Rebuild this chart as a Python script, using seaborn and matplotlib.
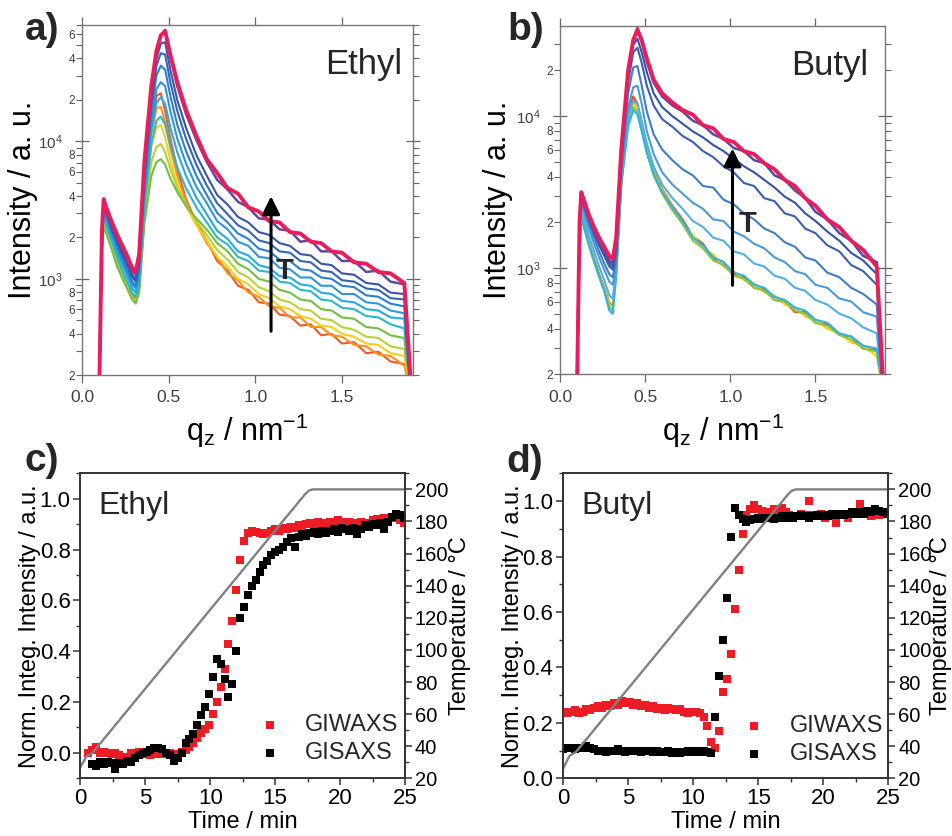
import numpy as np
import matplotlib
matplotlib.use("Agg")
import matplotlib.pyplot as plt
import matplotlib.ticker as mticker
import seaborn as sns

sns.set_theme(style="ticks")
plt.rcParams["font.family"] = ["Liberation Sans", "DejaVu Sans"]
plt.rcParams["mathtext.fontset"] = "custom"
plt.rcParams["mathtext.rm"] = "Liberation Sans"
plt.rcParams["mathtext.it"] = "Liberation Sans:italic"
plt.rcParams["mathtext.default"] = "regular"

# ---------------- GISAXS line cuts (log10 intensity) ----------------
q_nm = [0.10, 0.115, 0.125, 0.14, 0.17, 0.20, 0.23, 0.26, 0.29, 0.31,
        0.33, 0.36, 0.40, 0.43, 0.455, 0.48, 0.51, 0.55, 0.60, 0.66,
        0.72, 0.78, 0.84, 0.90, 0.96, 1.02, 1.08, 1.14, 1.20, 1.26,
        1.32, 1.38, 1.44, 1.50, 1.57, 1.64, 1.71, 1.78, 1.86, 1.895]

# Ethyl, low T -> high T
a_red = [2.2, 3.23, 3.42, 3.37, 3.26, 3.14, 3.04, 2.96, 2.88, 2.85, 2.95, 3.45, 4.08, 4.33, 4.35, 4.22, 4.02, 3.80, 3.58, 3.41,
         3.28, 3.13, 3.06, 2.95, 2.92, 2.83, 2.82, 2.74, 2.73, 2.66, 2.67, 2.59, 2.60, 2.53, 2.54, 2.46, 2.47, 2.40, 2.38, 2.2]
a_orange = [2.2, 3.22, 3.41, 3.36, 3.25, 3.13, 3.03, 2.95, 2.87, 2.84, 2.94, 3.45, 4.05, 4.24, 4.25, 4.14, 3.95, 3.75, 3.56, 3.40,
            3.26, 3.16, 3.04, 2.99, 2.90, 2.87, 2.80, 2.79, 2.72, 2.72, 2.65, 2.65, 2.59, 2.58, 2.52, 2.51, 2.45, 2.44, 2.37, 2.2]
a_yellow = [2.2, 3.22, 3.40, 3.35, 3.24, 3.12, 3.02, 2.94, 2.86, 2.83, 2.93, 3.45, 3.96, 4.10, 4.12, 4.03, 3.86, 3.69, 3.53, 3.39,
            3.28, 3.16, 3.09, 3.00, 2.96, 2.89, 2.86, 2.80, 2.78, 2.73, 2.71, 2.66, 2.65, 2.60, 2.58, 2.53, 2.52, 2.46, 2.44, 2.2]
a_ygreen = [2.2, 3.22, 3.40, 3.35, 3.24, 3.12, 3.02, 2.94, 2.86, 2.83, 2.92, 3.45, 3.85, 3.96, 3.98, 3.92, 3.80, 3.66, 3.54, 3.42,
            3.32, 3.21, 3.14, 3.05, 3.01, 2.94, 2.91, 2.85, 2.83, 2.78, 2.77, 2.71, 2.70, 2.65, 2.63, 2.58, 2.57, 2.51, 2.49, 2.2]
a_green = [2.2, 3.20, 3.38, 3.33, 3.22, 3.10, 3.01, 2.93, 2.85, 2.82, 2.90, 3.40, 3.75, 3.85, 3.87, 3.83, 3.73, 3.63, 3.53, 3.44,
           3.36, 3.26, 3.20, 3.11, 3.07, 3.00, 2.98, 2.92, 2.90, 2.85, 2.84, 2.78, 2.77, 2.72, 2.71, 2.65, 2.64, 2.59, 2.57, 2.2]
a_teal = [2.2, 3.24, 3.45, 3.39, 3.28, 3.17, 3.07, 2.98, 2.90, 2.87, 2.96, 3.52, 3.98, 4.15, 4.18, 4.12, 3.97, 3.81, 3.66, 3.52,
          3.41, 3.30, 3.25, 3.16, 3.13, 3.06, 3.05, 2.98, 2.97, 2.92, 2.91, 2.85, 2.84, 2.79, 2.78, 2.73, 2.72, 2.67, 2.64, 2.2]
a_cyan = [2.2, 3.25, 3.48, 3.42, 3.31, 3.20, 3.11, 3.02, 2.93, 2.90, 3.00, 3.58, 4.08, 4.28, 4.32, 4.27, 4.10, 3.92, 3.75, 3.59,
          3.47, 3.35, 3.29, 3.20, 3.17, 3.10, 3.08, 3.02, 3.01, 2.96, 2.95, 2.90, 2.89, 2.84, 2.83, 2.78, 2.77, 2.72, 2.71, 2.2]
a_sky = [2.2, 3.27, 3.50, 3.44, 3.33, 3.23, 3.13, 3.05, 2.96, 2.93, 3.04, 3.63, 4.15, 4.38, 4.43, 4.40, 4.22, 4.02, 3.84, 3.67,
         3.55, 3.42, 3.36, 3.27, 3.24, 3.16, 3.15, 3.08, 3.07, 3.01, 3.01, 2.95, 2.95, 2.89, 2.89, 2.83, 2.82, 2.77, 2.75, 2.2]
a_lblue = [2.2, 3.28, 3.52, 3.46, 3.35, 3.25, 3.16, 3.07, 2.98, 2.95, 3.07, 3.68, 4.22, 4.48, 4.55, 4.52, 4.33, 4.12, 3.93, 3.75,
           3.61, 3.48, 3.41, 3.33, 3.29, 3.22, 3.20, 3.14, 3.13, 3.07, 3.06, 3.01, 3.00, 2.95, 2.94, 2.88, 2.87, 2.82, 2.80, 2.2]
a_navy = [2.2, 3.29, 3.54, 3.48, 3.37, 3.27, 3.18, 3.10, 3.01, 2.98, 3.10, 3.72, 4.28, 4.55, 4.64, 4.63, 4.43, 4.22, 4.02, 3.83,
          3.68, 3.55, 3.47, 3.39, 3.35, 3.28, 3.26, 3.20, 3.19, 3.13, 3.12, 3.06, 3.05, 2.99, 2.98, 2.93, 2.92, 2.86, 2.85, 2.2]
a_blue = [2.2, 3.30, 3.55, 3.49, 3.38, 3.29, 3.20, 3.12, 3.03, 3.00, 3.12, 3.75, 4.32, 4.60, 4.71, 4.72, 4.52, 4.30, 4.10, 3.90,
          3.75, 3.61, 3.54, 3.45, 3.41, 3.34, 3.32, 3.26, 3.24, 3.18, 3.17, 3.11, 3.10, 3.04, 3.03, 2.97, 2.96, 2.90, 2.89, 2.2]
a_violet = [2.3, 3.30, 3.56, 3.50, 3.40, 3.31, 3.23, 3.14, 3.06, 3.03, 3.15, 3.80, 4.38, 4.65, 4.77, 4.81, 4.62, 4.40, 4.20, 4.01,
            3.85, 3.72, 3.65, 3.56, 3.52, 3.44, 3.43, 3.36, 3.35, 3.27, 3.28, 3.20, 3.20, 3.13, 3.13, 3.05, 3.06, 2.98, 2.96, 2.2]
a_pink = [2.2, 3.35, 3.58, 3.52, 3.42, 3.33, 3.25, 3.17, 3.08, 3.05, 3.18, 3.85, 4.40, 4.66, 4.77, 4.80, 4.63, 4.43, 4.23, 4.04,
          3.87, 3.77, 3.66, 3.62, 3.52, 3.49, 3.42, 3.41, 3.34, 3.33, 3.27, 3.26, 3.20, 3.19, 3.12, 3.11, 3.05, 3.04, 2.97, 2.3]

# Butyl, low T -> high T
b_red = [2.2, 3.14, 3.34, 3.29, 3.17, 3.06, 2.96, 2.87, 2.77, 2.75, 2.98, 3.57, 4.02, 4.13, 4.08, 3.95, 3.79, 3.64, 3.52, 3.41,
         3.32, 3.21, 3.16, 3.06, 3.04, 2.96, 2.94, 2.87, 2.86, 2.79, 2.78, 2.71, 2.71, 2.64, 2.63, 2.56, 2.55, 2.47, 2.46, 2.2]
b_yellow = [2.2, 3.13, 3.33, 3.28, 3.16, 3.05, 2.95, 2.86, 2.76, 2.74, 2.97, 3.56, 3.98, 4.09, 4.05, 3.93, 3.78, 3.63, 3.51, 3.40,
            3.29, 3.22, 3.13, 3.09, 3.01, 2.98, 2.92, 2.90, 2.84, 2.82, 2.76, 2.74, 2.68, 2.66, 2.60, 2.57, 2.51, 2.49, 2.42, 2.2]
b_green = [2.2, 3.12, 3.32, 3.27, 3.15, 3.04, 2.94, 2.85, 2.74, 2.72, 2.96, 3.55, 3.95, 4.06, 4.03, 3.91, 3.76, 3.61, 3.49, 3.38,
           3.29, 3.18, 3.13, 3.05, 3.02, 2.95, 2.93, 2.87, 2.85, 2.79, 2.78, 2.72, 2.70, 2.64, 2.62, 2.56, 2.53, 2.47, 2.45, 2.2]
b_cyan = [2.2, 3.12, 3.33, 3.28, 3.15, 3.05, 2.95, 2.85, 2.72, 2.70, 2.95, 3.55, 3.93, 4.04, 4.01, 3.90, 3.76, 3.62, 3.50, 3.40,
          3.31, 3.20, 3.15, 3.07, 3.04, 2.97, 2.95, 2.89, 2.87, 2.81, 2.79, 2.74, 2.72, 2.66, 2.64, 2.57, 2.55, 2.49, 2.47, 2.2]
b_blue0 = [2.2, 3.18, 3.38, 3.33, 3.21, 3.11, 3.01, 2.92, 2.82, 2.80, 2.99, 3.58, 4.00, 4.10, 4.08, 3.97, 3.82, 3.67, 3.55, 3.46,
           3.39, 3.31, 3.27, 3.20, 3.18, 3.11, 3.09, 3.03, 3.01, 2.95, 2.93, 2.87, 2.85, 2.79, 2.76, 2.70, 2.67, 2.61, 2.57, 2.2]
b_blue1 = [2.2, 3.22, 3.42, 3.37, 3.26, 3.16, 3.07, 2.99, 2.91, 2.89, 3.02, 3.60, 4.05, 4.19, 4.20, 4.08, 3.90, 3.75, 3.63, 3.55,
           3.49, 3.43, 3.39, 3.32, 3.31, 3.24, 3.21, 3.16, 3.13, 3.07, 3.04, 2.98, 2.96, 2.89, 2.87, 2.80, 2.78, 2.71, 2.68, 2.2]
b_blue2 = [2.2, 3.25, 3.45, 3.40, 3.29, 3.20, 3.11, 3.03, 2.96, 2.94, 3.06, 3.65, 4.15, 4.32, 4.33, 4.20, 4.03, 3.88, 3.78, 3.71,
           3.65, 3.61, 3.54, 3.53, 3.45, 3.42, 3.36, 3.32, 3.26, 3.23, 3.17, 3.14, 3.07, 3.05, 2.97, 2.94, 2.87, 2.83, 2.76, 2.2]
b_blue3 = [2.2, 3.27, 3.47, 3.42, 3.32, 3.23, 3.15, 3.08, 3.01, 2.99, 3.12, 3.70, 4.22, 4.42, 4.45, 4.35, 4.20, 4.07, 3.98, 3.93,
           3.87, 3.83, 3.77, 3.73, 3.67, 3.63, 3.56, 3.54, 3.46, 3.44, 3.36, 3.34, 3.26, 3.23, 3.15, 3.11, 3.02, 2.98, 2.89, 2.2]
b_blue4 = [2.2, 3.28, 3.48, 3.43, 3.33, 3.24, 3.16, 3.09, 3.03, 3.01, 3.15, 3.73, 4.26, 4.47, 4.51, 4.42, 4.29, 4.15, 4.06, 4.00,
           3.95, 3.90, 3.86, 3.81, 3.77, 3.72, 3.67, 3.63, 3.58, 3.53, 3.47, 3.43, 3.36, 3.31, 3.24, 3.18, 3.10, 3.05, 2.96, 2.2]
b_violet = [2.3, 3.28, 3.48, 3.43, 3.33, 3.25, 3.17, 3.11, 3.05, 3.03, 3.17, 3.75, 4.28, 4.50, 4.58, 4.49, 4.36, 4.22, 4.13, 4.07,
            4.03, 3.97, 3.94, 3.88, 3.85, 3.79, 3.77, 3.71, 3.69, 3.61, 3.58, 3.51, 3.46, 3.37, 3.32, 3.23, 3.18, 3.08, 3.04, 2.2]
b_pink = [2.2, 3.30, 3.50, 3.45, 3.35, 3.27, 3.20, 3.14, 3.08, 3.06, 3.20, 3.78, 4.30, 4.50, 4.57, 4.50, 4.38, 4.24, 4.15, 4.09,
          4.04, 4.01, 3.94, 3.92, 3.85, 3.83, 3.77, 3.75, 3.69, 3.65, 3.58, 3.54, 3.46, 3.41, 3.32, 3.27, 3.18, 3.12, 3.01, 2.3]

# ---------------- integrated intensities vs time ----------------
time_min = [0.0, 0.3, 0.6, 0.9, 1.2, 1.5, 1.8, 2.1, 2.4, 2.7, 3.0, 3.3, 3.6, 3.9, 4.2, 4.5, 4.8, 5.1, 5.4, 5.7,
            6.0, 6.3, 6.6, 6.9, 7.2, 7.5, 7.8, 8.1, 8.4, 8.7, 9.0, 9.3, 9.6, 9.9, 10.2, 10.5, 10.8, 11.1, 11.4, 11.7,
            12.0, 12.3, 12.6, 12.9, 13.2, 13.5, 13.8, 14.1, 14.4, 14.7, 15.0, 15.3, 15.6, 15.9, 16.2, 16.5, 16.8, 17.1, 17.4, 17.7,
            18.0, 18.3, 18.6, 18.9, 19.2, 19.5, 19.8, 20.1, 20.4, 20.7, 21.0, 21.3, 21.6, 21.9, 22.2, 22.5, 22.8, 23.1, 23.4, 23.7,
            24.0, 24.3, 24.6, 24.9]
nan = float("nan")
giwaxs_ethyl = [nan, nan, 0.00, 0.01, 0.025, 0.00, 0.005, 0.00, -0.005, 0.00, -0.01, -0.02, -0.015, 0.00, -0.005, 0.005, 0.00, -0.005, -0.01, 0.00,
                -0.005, 0.00, -0.005, 0.00, -0.01, -0.005, 0.005, 0.01, 0.025, 0.04, 0.06, 0.08, 0.095, 0.11, 0.155, 0.20, 0.26, 0.33, 0.43, 0.52,
                0.64, 0.76, 0.835, 0.865, 0.875, 0.87, 0.865, 0.86, 0.865, 0.875, 0.88, 0.875, 0.885, 0.88, 0.89, 0.885, 0.895, 0.89, 0.90, 0.905,
                0.895, 0.91, 0.905, 0.90, 0.91, 0.905, 0.915, 0.91, 0.905, 0.91, 0.90, 0.905, 0.91, 0.90, 0.905, 0.915, 0.92, 0.91, 0.925, 0.915,
                0.93, 0.925, 0.915, 0.905]
gisaxs_ethyl = [nan, nan, nan, -0.045, -0.05, -0.035, -0.045, -0.035, -0.04, -0.065, -0.04, -0.045, -0.03, -0.035, -0.02, -0.01, 0.00, 0.005, 0.01, 0.02,
                0.02, 0.015, 0.00, -0.01, -0.03, -0.02, 0.00, 0.04, 0.055, 0.075, 0.11, 0.15, 0.18, 0.23, 0.30, 0.37, 0.35, 0.29, 0.22, 0.27,
                0.40, 0.53, 0.575, 0.62, 0.655, 0.68, 0.71, 0.74, 0.755, 0.78, 0.79, 0.80, 0.81, 0.83, 0.845, 0.81, 0.85, 0.86, 0.855, 0.865,
                0.87, 0.86, 0.875, 0.865, 0.875, 0.88, 0.87, 0.885, 0.88, 0.875, 0.885, 0.86, 0.88, 0.895, 0.89, 0.90, 0.895, 0.905, 0.88, 0.91,
                0.93, 0.94, 0.935, 0.925]
giwaxs_butyl = [0.24, 0.235, 0.24, 0.245, 0.235, 0.24, 0.25, 0.245, 0.255, 0.26, 0.255, 0.265, 0.26, 0.27, 0.265, 0.28, 0.27, 0.275, 0.265, 0.27,
                0.26, 0.265, 0.255, 0.26, 0.25, 0.255, 0.245, 0.255, 0.25, 0.245, 0.25, 0.24, 0.235, 0.24, 0.24, 0.235, 0.22, 0.19, 0.13, 0.11,
                0.17, 0.31, 0.36, 0.45, 0.61, 0.75, 0.88, 0.95, 0.97, 0.985, 0.97, 0.965, 0.96, 0.955, 0.97, 0.965, 0.975, 0.96, 0.95, 0.94,
                0.945, 0.955, 0.95, 1.00, 0.95, 0.945, 0.955, 0.94, 0.95, 0.945, 0.92, 0.95, 0.955, 0.94, 0.955, 0.96, 0.99, 0.955, 0.96, 0.945,
                0.955, 0.95, 0.96, 0.955]
gisaxs_butyl = [0.105, 0.11, 0.11, 0.105, 0.11, 0.11, 0.115, 0.11, 0.105, 0.10, 0.10, 0.095, 0.10, 0.10, 0.105, 0.10, 0.095, 0.10, 0.10, 0.10,
                0.095, 0.10, 0.10, 0.095, 0.10, 0.095, 0.095, 0.10, 0.09, 0.095, 0.09, 0.095, 0.10, 0.095, 0.10, 0.095, 0.10, 0.095, 0.09, 0.22,
                0.37, 0.50, 0.65, 0.87, 0.975, 0.95, 0.935, 0.925, 0.93, 0.935, 0.94, 0.935, 0.94, 0.94, 0.935, 0.94, 0.945, 0.94, 0.945, 0.94,
                0.945, 0.95, 0.945, 0.94, 0.945, 0.95, 0.945, 0.95, 0.945, 0.955, 0.95, 0.955, 0.95, 0.955, 0.96, 0.955, 0.96, 0.955, 0.965, 0.96,
                0.97, 0.965, 0.96, 0.955]

temp_time_ethyl = [0.0, 0.5, 0.9, 17.3, 17.6, 17.9, 25.0]
temp_ethyl = [27, 34, 35.5, 197, 199.3, 200, 200]
temp_time_butyl = [0.0, 0.5, 1.0, 17.3, 17.6, 17.9, 25.0]
temp_butyl = [26, 34, 36.5, 197, 199.3, 200, 200]

# ---------------- styling ----------------
curves_a = [a_red, a_orange, a_yellow, a_ygreen, a_green, a_teal, a_cyan, a_sky, a_lblue, a_navy, a_blue, a_violet, a_pink]
colors_a = ["#f15a24", "#f7941d", "#f4d019", "#b5d334", "#72bf44", "#2bb8c8", "#27aae1", "#2f96d8", "#2b80cc",
            "#3464b8", "#3a55a8", "#5e4aa0", "#ec1c5c"]
curves_b = [b_red, b_yellow, b_green, b_cyan, b_blue0, b_blue1, b_blue2, b_blue3, b_blue4, b_violet, b_pink]
colors_b = ["#f04e23", "#f5d300", "#8cc63f", "#29b5e8", "#4fb0e3", "#4a9ad8", "#3f7cc9", "#3b5fb0", "#3552a6",
            "#5a4a9e", "#ec1c5c"]

fig = plt.figure(figsize=(9.52, 8.36), dpi=100)
ax_a = fig.add_axes([0.0861, 0.5514, 0.3477, 0.4187])
ax_b = fig.add_axes([0.5882, 0.5523, 0.3417, 0.4166])
ax_c = fig.add_axes([0.0844, 0.0690, 0.3411, 0.3648])
ax_d = fig.add_axes([0.5914, 0.0690, 0.3417, 0.3648])


def major_fmt(v, pos):
    return r"$10^{%d}$" % int(round(np.log10(v)))


def minor_fmt(v, pos):
    d = int(round(v / 10 ** np.floor(np.log10(v) + 1e-9)))
    return str(d) if d in (2, 4, 6, 8) else ""


def saxs_panel(ax, curves, colors, ymax, name, name_xy, arrow_x, arrow_y, t_xy, ylab_x, xlab_y):
    n = len(curves)
    for i, (vals, col) in enumerate(zip(curves, colors)):
        lw = 2.8 if i == n - 1 else (1.8 if i == n - 2 else 1.5)
        sns.lineplot(x=q_nm, y=10 ** np.array(vals), color=col, lw=lw, ax=ax, errorbar=None)
    ax.set_yscale("log")
    ax.set_xlim(0, 1.91)
    ax.set_ylim(200, ymax)
    ax.set_xticks([0.0, 0.5, 1.0, 1.5])
    ax.xaxis.set_major_formatter(mticker.FormatStrFormatter("%.1f"))
    ax.xaxis.set_minor_locator(mticker.NullLocator())
    ax.yaxis.set_major_locator(mticker.LogLocator(base=10))
    ax.yaxis.set_major_formatter(mticker.FuncFormatter(major_fmt))
    ax.yaxis.set_minor_locator(mticker.LogLocator(base=10, subs=[2, 3, 4, 5, 6, 7, 8, 9]))
    ax.yaxis.set_minor_formatter(mticker.FuncFormatter(minor_fmt))
    ax.tick_params(axis="x", which="major", direction="out", length=6, width=0.9, top=True,
                   labelsize=12.5, labelcolor="#404040", color="#666666", pad=5)
    ax.tick_params(axis="y", which="major", direction="inout", length=10, width=0.9, right=True,
                   labelsize=11, labelcolor="#404040", color="#666666", pad=9)
    ax.tick_params(axis="y", which="minor", direction="out", length=4, width=0.8, right=True,
                   labelsize=8.5, labelcolor="#404040", color="#666666", pad=1)
    for s in ax.spines.values():
        s.set_color("#777777")
        s.set_linewidth(1.0)
    ax.set_xlabel(r"q$_{z}$ / nm$^{-1}$", fontsize=22, color="black")
    ax.set_ylabel("Intensity / a. u.", fontsize=22, color="black")
    ax.yaxis.set_label_coords(ylab_x, 0.5)
    ax.xaxis.set_label_coords(0.5, xlab_y)
    ax.text(name_xy[0], name_xy[1], name, transform=ax.transAxes, fontsize=25, va="center", ha="left")
    ax.annotate("", xy=(arrow_x, arrow_y[1]), xytext=(arrow_x, arrow_y[0]),
                arrowprops=dict(arrowstyle="-|>,head_length=0.6,head_width=0.3", lw=2.2, color="black",
                                mutation_scale=18, shrinkA=0, shrinkB=0))
    ax.text(t_xy[0], t_xy[1], "T", fontsize=21, fontweight="bold", ha="center", va="center")


saxs_panel(ax_a, curves_a, colors_a, 7.0e4, "Ethyl", (0.734, 0.886), 1.091, (416, 3980), (1.17, 1140), -0.133, -0.105)
saxs_panel(ax_b, curves_b, colors_b, 3.92e4, "Butyl", (0.71, 0.888), 1.013, (770, 6125), (1.10, 1940), -0.144, -0.107)


def kinetics_panel(ax, wax, sax, t_time, t_vals, ylim, name, leg_xy, rlab_x):
    sns.scatterplot(x=time_min, y=wax, color="#ed1c24", marker="s", s=30, linewidth=0, ax=ax, label="GIWAXS", zorder=3)
    sns.scatterplot(x=time_min, y=sax, color="black", marker="s", s=30, linewidth=0, ax=ax, label="GISAXS", zorder=3)
    ax.set_xlim(0, 25)
    ax.set_ylim(*ylim)
    ax.set_xticks([0, 5, 10, 15, 20, 25])
    ax.xaxis.set_minor_locator(mticker.MultipleLocator(2.5))
    ax.set_yticks([0.0, 0.2, 0.4, 0.6, 0.8, 1.0])
    ax.yaxis.set_major_formatter(mticker.FormatStrFormatter("%.1f"))
    ax.yaxis.set_minor_locator(mticker.MultipleLocator(0.1))
    ax.tick_params(which="major", direction="out", length=5, width=1.1, labelsize=16, color="#333333",
                   labelcolor="black", pad=2, top=False, right=False)
    ax.tick_params(which="minor", direction="out", length=3, width=1.0, color="#333333", top=False, right=False)
    ax.set_xlabel("Time / min", fontsize=17, color="black")
    ax.set_ylabel("Norm. Integ. Intensity / a.u.", fontsize=17, color="black")
    ax.xaxis.set_label_coords(0.5, -0.108)
    ax.yaxis.set_label_coords(-0.121, 0.5)
    ax.text(0.055, 0.892, name, transform=ax.transAxes, fontsize=23, va="center", ha="left")
    ax.legend(loc="center", bbox_to_anchor=leg_xy, frameon=False, fontsize=17, handlelength=1.0,
              handletextpad=1.0, labelspacing=0.25, borderpad=0.2)

    ax2 = ax.twinx()
    sns.lineplot(x=t_time, y=t_vals, color="#808080", lw=1.7, ax=ax2, errorbar=None)
    ax2.set_ylim(20, 210)
    ax2.set_yticks(list(range(20, 201, 20)))
    ax2.yaxis.set_minor_locator(mticker.MultipleLocator(10))
    ax2.tick_params(axis="y", which="major", direction="out", length=5, width=1.1, labelsize=14.5,
                    color="#333333", labelcolor="black", pad=2)
    ax2.tick_params(axis="y", which="minor", direction="out", length=3, width=1.0, color="#333333")
    ax2.set_ylabel("Temperature / °C", fontsize=17, color="black")
    ax2.yaxis.set_label_coords(rlab_x, 0.5)
    for a in (ax, ax2):
        for s in a.spines.values():
            s.set_color("#333333")
            s.set_linewidth(1.2)


kinetics_panel(ax_c, giwaxs_ethyl, gisaxs_ethyl, temp_time_ethyl, temp_ethyl, (-0.1, 1.1), "Ethyl", (0.763, 0.129), 1.136)
kinetics_panel(ax_d, giwaxs_butyl, gisaxs_butyl, temp_time_butyl, temp_butyl, (0.0, 1.1), "Butyl", (0.767, 0.126), 1.128)

for lab, x, y in [("a)", 25, 40), ("b)", 507, 40), ("c)", 25, 471), ("d)", 506, 472)]:
    fig.text(x / 952, 1 - y / 836, lab, fontsize=28, fontweight="bold", ha="left", va="baseline")

fig.savefig("out.png", dpi=100)
